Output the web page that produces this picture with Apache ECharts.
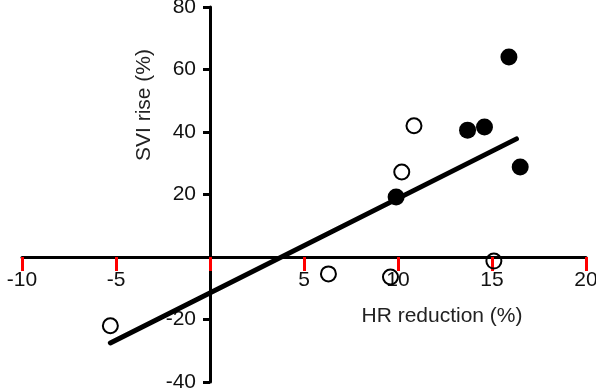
<!DOCTYPE html>
<html>
<head>
<meta charset="utf-8">
<script src="https://cdn.jsdelivr.net/npm/echarts@6/dist/echarts.min.js"></script>
<style>
  html, body { margin: 0; padding: 0; background: #fff; }
  #main { width: 596px; height: 391px; }
</style>
</head>
<body>
<div id="main"></div>
<script>
// filled circles
var filledX = [15.9, 13.7, 14.6, 16.5, 9.9];
var filledY = [64, 40.6, 41.6, 28.8, 19.2];
// open circles
var openX = [10.85, 10.2, -5.3, 6.3, 9.6, 15.1];
var openY = [42, 27.2, -22, -5.4, -6.4, -1.3];
// regression line ends
var fitX = [-5.3, 16.3];
var fitY = [-27.5, 37.8];

var xTicks = [-10, -5, 0, 5, 10, 15, 20];
var yTicks = [-40, -20, 0, 20, 40, 60, 80];

function pairs(xs, ys) {
  var out = [];
  for (var i = 0; i < xs.length; i++) out.push([xs[i], ys[i]]);
  return out;
}

var chart = echarts.init(document.getElementById('main'));
var font = 'Liberation Sans, Arial, sans-serif';
var hideZero = function (v) { return v === 0 ? '' : v; };

var option = {
  animation: false,
  grid: { left: 22, right: 10, top: 7, bottom: 9, outerBoundsMode: 'none', containLabel: false },
  xAxis: {
    type: 'value',
    min: xTicks[0],
    max: xTicks[xTicks.length - 1],
    interval: 5,
    splitLine: { show: false },
    axisLine: { onZero: true, lineStyle: { color: '#000', width: 3 } },
    axisTick: { show: true, length: 14, lineStyle: { color: 'red', width: 3 } },
    axisLabel: { color: '#111', fontSize: 21, fontFamily: font, margin: 13, formatter: hideZero }
  },
  yAxis: {
    type: 'value',
    min: yTicks[0],
    max: yTicks[yTicks.length - 1],
    interval: 20,
    splitLine: { show: false },
    axisLine: { onZero: true, lineStyle: { color: '#000', width: 3 } },
    axisTick: { show: true, length: 7, lineStyle: { color: '#000', width: 3 } },
    axisLabel: { color: '#111', fontSize: 21, fontFamily: font, margin: 14, formatter: hideZero }
  },
  graphic: [
    {
      type: 'text', x: 442, y: 316,
      style: { text: 'HR reduction (%)', fill: '#222', font: '21px ' + font, align: 'center', verticalAlign: 'middle' }
    },
    {
      type: 'text', x: 144, y: 105, rotation: Math.PI / 2,
      style: { text: 'SVI rise (%)', fill: '#222', font: '21px ' + font, align: 'center', verticalAlign: 'middle' }
    }
  ],
  series: [
    {
      type: 'line',
      data: pairs(fitX, fitY),
      symbol: 'none',
      lineStyle: { color: '#000', width: 5, cap: 'round' },
      z: 3
    },
    {
      type: 'scatter',
      data: pairs(filledX, filledY),
      symbolSize: 17,
      itemStyle: { color: '#000', opacity: 1 },
      z: 4
    },
    {
      type: 'scatter',
      data: pairs(openX, openY),
      symbolSize: 15,
      itemStyle: { color: 'rgba(255,255,255,0)', borderColor: '#000', borderWidth: 2, opacity: 1 },
      z: 4
    }
  ]
};
chart.setOption(option);

// labels stay at the grid edge in v6, so pull them in next to the origin lines
var origin = chart.convertToPixel({ gridIndex: 0 }, [0, 0]);
var left = 22, bottom = 391 - 9;
chart.setOption({
  xAxis: { axisLabel: { margin: 13 - (bottom - origin[1]) } },
  yAxis: { axisLabel: { margin: 14 - (origin[0] - left) } }
});
</script>
</body>
</html>
